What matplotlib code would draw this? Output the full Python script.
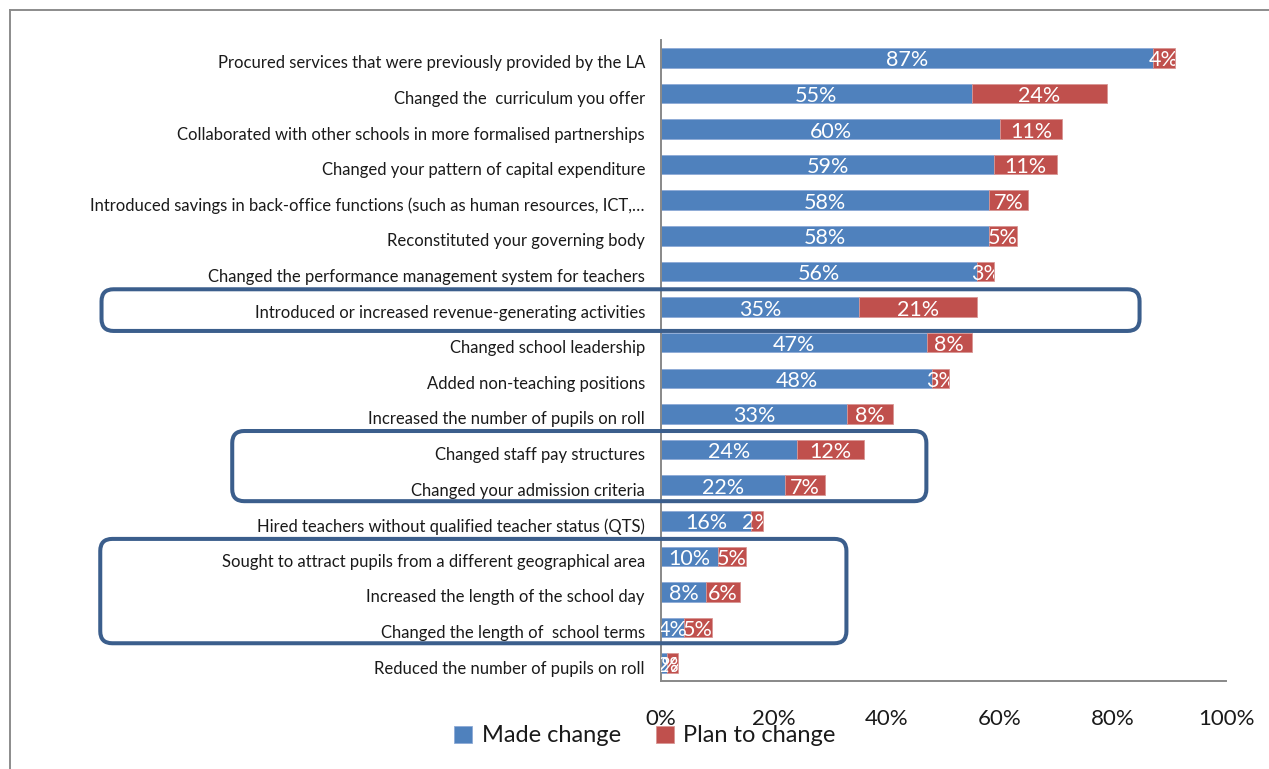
import matplotlib
matplotlib.use("Agg")
import matplotlib.pyplot as plt
from matplotlib.patches import FancyBboxPatch
from matplotlib.lines import Line2D
from matplotlib.transforms import Bbox, TransformedBbox, ScaledTranslation
from matplotlib.ticker import FuncFormatter

plt.rcParams['font.family'] = ['Lato', 'DejaVu Sans']

categories = [
    "Procured services that were previously provided by the LA",
    "Changed the  curriculum you offer",
    "Collaborated with other schools in more formalised partnerships",
    "Changed your pattern of capital expenditure",
    "Introduced savings in back-office functions (such as human resources, ICT,\u2026",
    "Reconstituted your governing body",
    "Changed the performance management system for teachers",
    "Introduced or increased revenue-generating activities",
    "Changed school leadership",
    "Added non-teaching positions",
    "Increased the number of pupils on roll",
    "Changed staff pay structures",
    "Changed your admission criteria",
    "Hired teachers without qualified teacher status (QTS)",
    "Sought to attract pupils from a different geographical area",
    "Increased the length of the school day",
    "Changed the length of  school terms",
    "Reduced the number of pupils on roll",
]
made_change = [87, 55, 60, 59, 58, 58, 56, 35, 47, 48, 33, 24, 22, 16, 10, 8, 4, 1]
plan_to_change = [4, 24, 11, 11, 7, 5, 3, 21, 8, 3, 8, 12, 7, 2, 5, 6, 5, 2]
series_names = ["Made change", "Plan to change"]
x_ticks = [0, 20, 40, 60, 80, 100]

# highlighted groups: (top edge, bottom edge in row units, left, right in figure fraction)
highlight_groups = [
    (6.50, 7.67, 0.080, 0.898),
    (10.48, 12.45, 0.183, 0.730),
    (13.51, 16.44, 0.079, 0.667),
]

BLUE = "#4F81BD"
RED = "#C0504D"
FRAME = "#3B5E8C"

W, H, DPI = 1269, 769, 100
fig = plt.figure(figsize=(W / DPI, H / DPI), dpi=DPI)
ax = fig.add_axes([661 / W, 1 - 681 / H, (1226 - 661) / W, (681 - 40) / H])

rows = list(range(len(categories)))
bar_h = 0.55
blue_bars = ax.barh(rows, made_change, height=bar_h, color=BLUE,
                    edgecolor="#8DAAD6", linewidth=0.6, label=series_names[0])
red_bars = ax.barh(rows, plan_to_change, left=made_change, height=bar_h,
                   color=RED, edgecolor="#D99694", linewidth=0.6,
                   label=series_names[1])

ax.set_xlim(0, 100)
ax.set_ylim(len(categories) - 0.5, -0.5)
ax.set_xticks(x_ticks)
ax.xaxis.set_major_formatter(FuncFormatter(lambda v, p: f"{v:.0f}%"))
ax.set_yticks(rows)
ax.set_yticklabels([])
ax.tick_params(axis='y', length=0)
ax.tick_params(axis='x', length=0, pad=20, labelsize=16, labelcolor="#1a1a1a")

# category names, set slightly below the bar centres
cat_offset = ax.get_yaxis_transform() + ScaledTranslation(-0.16, -0.055,
                                                          fig.dpi_scale_trans)
for i, name in zip(rows, categories):
    ax.text(0, i, name, transform=cat_offset, ha="right", va="center",
            fontsize=12, color="#1a1a1a", clip_on=False)

for side in ("top", "right"):
    ax.spines[side].set_visible(False)
for side in ("left", "bottom"):
    ax.spines[side].set_color("#888888")
    ax.spines[side].set_linewidth(1.4)

# value labels, clipped to the extent of each stacked bar
val_offset = ax.transData + ScaledTranslation(0, -0.025, fig.dpi_scale_trans)
for i in rows:
    total = made_change[i] + plan_to_change[i]
    clip = TransformedBbox(Bbox([[0, i - bar_h / 2], [total, i + bar_h / 2]]),
                           ax.transData)
    starts = [0, made_change[i]]
    for start, val in zip(starts, [made_change[i], plan_to_change[i]]):
        t = ax.text(start + val / 2, i, f"{val}%", ha="center", va="center",
                    color="white", fontsize=15.5, clip_on=True,
                    transform=val_offset)
        t.set_clip_box(clip)

# rounded frames around highlighted rows
for top, bottom, x0, x1 in highlight_groups:
    top_px = ax.transData.transform((0, top))[1]
    bot_px = ax.transData.transform((0, bottom))[1]
    y_lo = min(top_px, bot_px)
    y_hi = max(top_px, bot_px)
    box = FancyBboxPatch((x0 * W, y_lo), (x1 - x0) * W, y_hi - y_lo,
                         boxstyle="round,pad=0,rounding_size=12",
                         transform=None, fill=False, edgecolor=FRAME,
                         linewidth=2.9, clip_on=False, zorder=5)
    fig.add_artist(box)

# outer frame of the chart area
fig.add_artist(Line2D([10 / W, 10 / W], [0, 1 - 10 / H], transform=fig.transFigure,
                      color="#8c8c8c", linewidth=1.4))
fig.add_artist(Line2D([10 / W, 1], [1 - 10 / H, 1 - 10 / H], transform=fig.transFigure,
                      color="#8c8c8c", linewidth=1.4))

fig.legend(handles=[blue_bars, red_bars], labels=series_names, loc="center",
           bbox_to_anchor=(645 / W, 1 - 736 / H), ncol=2, frameon=False,
           fontsize=17, handlelength=0.75, handleheight=0.75, handletextpad=0.4,
           columnspacing=1.5, labelcolor="#1a1a1a")

fig.savefig("out.png", dpi=DPI)
